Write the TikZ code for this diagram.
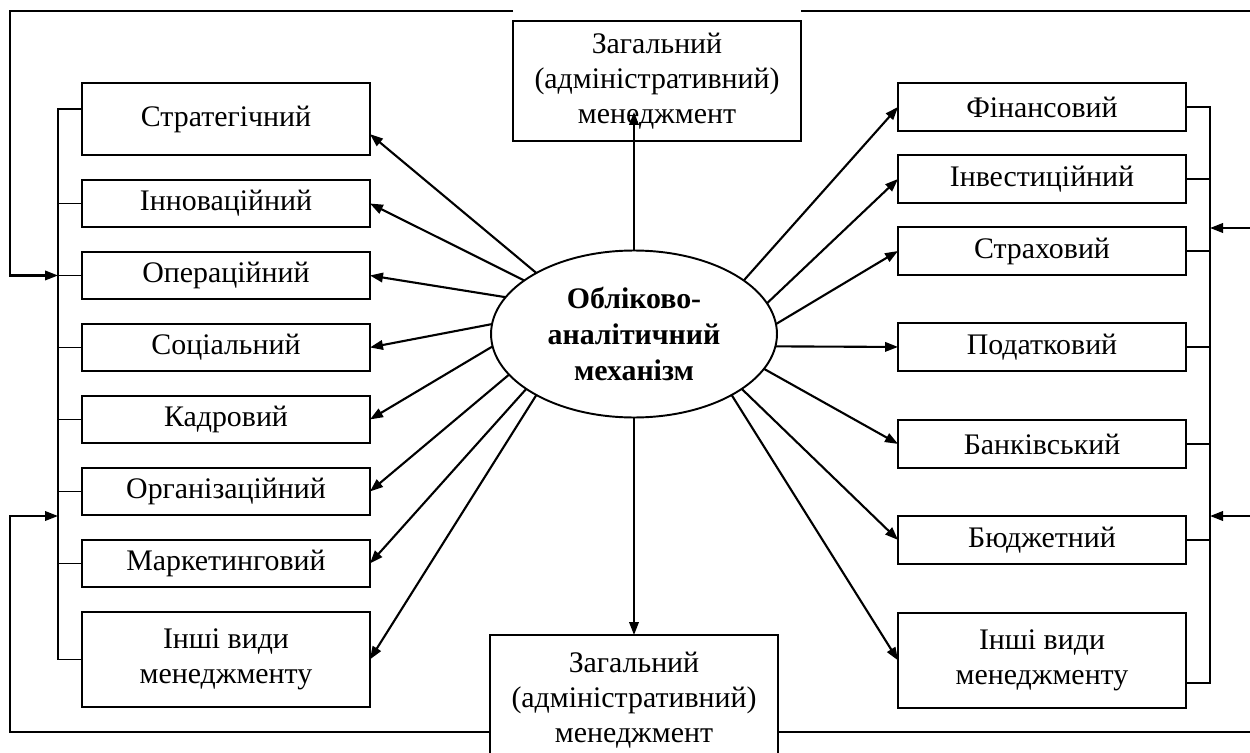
\documentclass[tikz,border=0pt]{standalone}
\usepackage{fontspec}
\setmainfont{Liberation Serif}
\usepackage{tikz}
\usetikzlibrary{arrows.meta,positioning,shapes.geometric,calc}

\begin{document}
\begin{tikzpicture}[
  x=0.02cm, y=-0.02cm,
  node distance=5mm,
  every node/.style={font=\fontsize{17}{20}\selectfont},
  box/.style={draw, line width=1.1pt, minimum width=57.6mm, align=center,
              inner sep=2pt, outer sep=0pt},
  lbox/.style={box, minimum height=9.4mm},
  rbox/.style={box, minimum height=9.6mm},
  mech/.style={draw, ellipse, line width=1.1pt, minimum width=57.2mm,
               minimum height=33.4mm, inner sep=0pt, outer sep=0pt, align=center,
               font=\fontsize{17}{20.5}\selectfont\bfseries},
  arr/.style={-{Triangle[length=2.6mm,width=1.9mm]}, line width=1.2pt},
  link/.style={line width=0.9pt}
]
\useasboundingbox (0,0) rectangle (1250,753);
\clip (0,0) rectangle (1250,753);

% centre and general management
\node[mech] (mech) at (634,334) {Обліково-\\аналітичний\\механізм};
\node[box, minimum height=24mm] (gtop) at (657,81)
  {Загальний\\(адміністративний)\\менеджмент};
\node[box, fill=white, minimum height=26mm] (gbot) at (634,700)
  {Загальний\\(адміністративний)\\менеджмент};

% left column
\node[lbox, minimum height=14.4mm] (strat) at (226,119) {Стратегічний};
\node[lbox, below=of strat]  (innov)  {Інноваційний};
\node[lbox, below=of innov]  (oper)   {Операційний};
\node[lbox, below=of oper]   (soc)    {Соціальний};
\node[lbox, below=of soc]    (kadr)   {Кадровий};
\node[lbox, below=of kadr]   (org)    {Організаційний};
\node[lbox, below=of org]    (market) {Маркетинговий};
\node[lbox, below=of market, minimum height=19mm] (inshl) {Інші види\\менеджменту};

% right column
\node[rbox] (fin) at (1042,107) {Фінансовий};
\node[rbox, below=4.8mm of fin]    (invest) {Інвестиційний};
\node[rbox, below=4.8mm of invest] (strakh) {Страховий};
\node[rbox, below=9.6mm of strakh] (podat)  {Податковий};
\node[rbox, below=9.8mm of podat]  (bank)   {Банківський};
\node[rbox, below=9.6mm of bank]   (budzh)  {Бюджетний};
\node[rbox, below=9.8mm of budzh, minimum height=19mm] (inshr) {Інші види\\менеджменту};

% buses
\coordinate (lbus) at (58,0);
\coordinate (rbus) at (1210,0);
\draw[link] (strat.176) -- (strat.176 -| lbus) -- (inshl.west -| lbus) -- (inshl.west);
\foreach \b in {innov,oper,soc,kadr,org,market}
  \draw[link] (\b.west) -- (\b.west -| lbus);
\draw[link] (fin.east) -- (fin.east -| rbus) -- (inshr.-9 -| rbus) -- (inshr.-9);
\foreach \b in {invest,strakh,podat,bank,budzh}
  \draw[link] (\b.east) -- (\b.east -| rbus);

% arrows from the mechanism
\foreach \a/\b in {148/strat.-6, 154/innov.east, 164/oper.east, 176/soc.east,
                   185/kadr.east, 198/org.east, 207/market.east, 212/inshl.east,
                   26/fin.west, 13/invest.west, 4/strakh.west, 355/podat.west,
                   345/bank.west, 333/budzh.west, 328/inshr.west}
  \draw[arr] (mech.\a) -- (\b);
\coordinate (gtip) at (634,112);
\draw[arr] (mech.north) -- (gtip);
\draw[arr] (mech.south) -- (gbot.north);

% feedback lines
\coordinate (ltop) at (10,11);
\coordinate (rtop) at (1262,11);
\coordinate (lbot) at (10,732);
\coordinate (rbot) at (1262,732);
\coordinate (rin1) at (1210,228);
\coordinate (rin2) at (1210,516);
\coordinate (lin2) at (58,516);
\draw[arr] (gtop.west |- ltop) -- (ltop) |- (oper.west -| lbus);
\draw[arr] (gtop.east |- rtop) -- (rtop) |- (rin1);
\draw[arr] (gbot.west |- lbot) -- (lbot) |- (lin2);
\draw[arr] (gbot.east |- rbot) -- (rbot) |- (rin2);
\end{tikzpicture}
\end{document}
